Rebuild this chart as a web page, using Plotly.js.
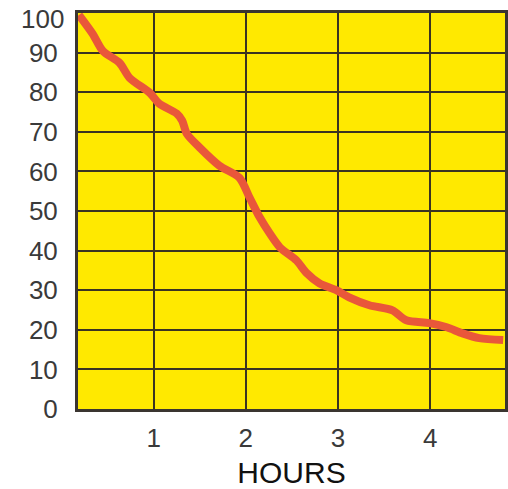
<!DOCTYPE html>
<html>
<head>
<meta charset="utf-8">
<script src="https://cdn.plot.ly/plotly-3.0.1.min.js"></script>
<style>
  html, body { margin: 0; padding: 0; background: #ffffff; }
  #chart { width: 508px; height: 489px; }
</style>
</head>
<body>
<div id="chart"></div>
<script>
// Data
const hours = [0.19, 0.34, 0.45, 0.63, 0.74, 0.96, 1.06, 1.25, 1.31, 1.36, 1.50, 1.71, 1.93, 2.04, 2.15, 2.26, 2.37, 2.55, 2.66, 2.80, 2.98, 3.12, 3.34, 3.59, 3.74, 3.99, 4.17, 4.35, 4.53, 4.79];
const values = [99.5, 94.7, 90.4, 87.4, 83.6, 79.8, 77.1, 74.6, 72.8, 69.5, 66.0, 61.5, 58.4, 53.4, 48.4, 44.3, 40.8, 37.5, 34.3, 31.7, 30.0, 28.2, 26.2, 24.9, 22.4, 21.7, 20.7, 19.1, 17.9, 17.4];
const xTicks = [1, 2, 3, 4];
const yTicks = [0, 10, 20, 30, 40, 50, 60, 70, 80, 90, 100];
const xTitle = "HOURS";

const yMax = yTicks[yTicks.length - 1];
const tickFont = { family: "Liberation Sans, Arial, sans-serif", size: 26, color: "#3a3a3a" };

const trace = {
  x: hours,
  y: values,
  type: "scatter",
  mode: "lines",
  line: { color: "#e9573a", width: 8, shape: "spline", smoothing: 0.8 },
  hoverinfo: "skip"
};

const layout = {
  width: 508,
  height: 489,
  margin: { l: 78, r: 3, t: 13, b: 80 },
  paper_bgcolor: "#ffffff",
  plot_bgcolor: "#ffe900",
  showlegend: false,
  font: { family: "Liberation Sans, Arial, sans-serif", color: "#3a3a3a" },
  xaxis: {
    range: [0.18, 4.81],
    tickmode: "array",
    tickvals: xTicks,
    ticktext: xTicks.map(String),
    tickfont: tickFont,
    ticks: "",
    ticklabelstandoff: 4,
    showgrid: true,
    gridcolor: "#3a3322",
    gridwidth: 2,
    showline: true,
    linecolor: "#3a3530",
    linewidth: 3,
    mirror: true,
    zeroline: false,
    fixedrange: true,
    title: { text: xTitle, font: { size: 30, color: "#111111" }, standoff: 14 }
  },
  yaxis: {
    range: [0, yMax],
    tickmode: "array",
    tickvals: yTicks,
    // the top label is drawn as an annotation nudged down so it is not cut at the page edge
    ticktext: yTicks.map(v => v === yMax ? "" : String(v)),
    tickfont: tickFont,
    ticks: "",
    ticklabelstandoff: 12,
    showgrid: true,
    gridcolor: "#3a3322",
    gridwidth: 2,
    showline: true,
    linecolor: "#3a3530",
    linewidth: 3,
    mirror: true,
    zeroline: false,
    fixedrange: true
  },
  annotations: [{
    xref: "paper", yref: "y",
    x: 0, y: yMax,
    xanchor: "right", yanchor: "middle",
    xshift: -12, yshift: -6,
    text: String(yMax),
    showarrow: false,
    font: tickFont
  }]
};

Plotly.newPlot("chart", [trace], layout, { displayModeBar: false, staticPlot: true });
</script>
</body>
</html>
